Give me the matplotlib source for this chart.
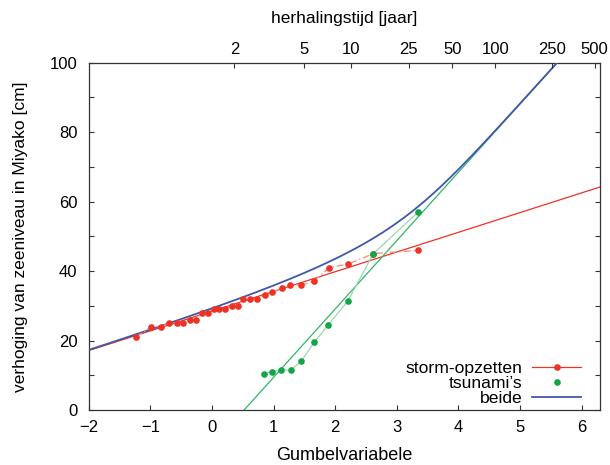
import numpy as np
import matplotlib
matplotlib.use("Agg")
import matplotlib.pyplot as plt
from matplotlib.lines import Line2D

plt.rcParams['font.family'] = ['Liberation Sans', 'DejaVu Sans']
plt.rcParams['font.size'] = 12

# Storm surges: Gumbel plotting position and height [cm]
storm_y = [-1.23, -0.99, -0.83, -0.69, -0.57, -0.47, -0.36, -0.26, -0.16, -0.07,
           0.04, 0.12, 0.22, 0.32, 0.42, 0.51, 0.62, 0.73, 0.86, 0.98,
           1.13, 1.27, 1.45, 1.65, 1.90, 2.21, 2.62, 3.35]
storm_h = [21, 24, 24, 25, 25, 25, 26, 26, 28, 28,
           29, 29, 29, 30, 30, 32, 32, 32, 33, 34,
           35, 36, 36, 37, 41, 42, 45, 46]

# Tsunamis: Gumbel plotting position and height [cm]
tsunami_y = [0.85, 0.98, 1.12, 1.28, 1.45, 1.66, 1.89, 2.21, 2.62, 3.35]
tsunami_h = [10.5, 11, 11.5, 11.5, 14, 19.5, 24.5, 31.5, 45, 57]

# Gumbel fits: h = location + scale * y
storm_loc, storm_scale = 28.45, 5.675
tsunami_loc, tsunami_scale = -10.3, 19.68

# Return periods for the top axis [years]
return_periods = [2, 5, 10, 25, 50, 100, 250, 500]

RED = '#ee3224'
RED_LIGHT = '#f4928a'
GREEN = '#14a54b'
GREEN_LINE = '#2fb866'
GREEN_LIGHT = '#9ad8ad'
BLUE = '#4257a8'

XMIN, XMAX = -2.0, 6.3

fig = plt.figure(figsize=(6.1, 4.65), dpi=100)
ax = fig.add_axes([0.1454, 0.1183, 0.8382, 0.7469])

# fitted straight lines
yy = np.array([XMIN, XMAX])
ax.plot(yy, storm_loc + storm_scale * yy, color=RED, lw=0.9, zorder=2)
ax.plot(yy, tsunami_loc + tsunami_scale * yy, color=GREEN_LINE, lw=0.9, zorder=2)

# combined distribution: annual maximum of both processes
h = np.linspace(0, 120, 600)
y_comb = -np.log(np.exp(-(h - storm_loc) / storm_scale)
                 + np.exp(-(h - tsunami_loc) / tsunami_scale))
ax.plot(y_comb, h, color=BLUE, lw=1.3, zorder=3)

# observations
ax.plot(storm_y, storm_h, color=RED_LIGHT, lw=1.0, ls=(0, (5, 2, 1, 2)), zorder=4)
ax.plot(tsunami_y, tsunami_h, color=GREEN_LIGHT, lw=0.9, zorder=4)
ax.plot(storm_y, storm_h, 'o', color=RED, ms=4.8, mec='none', zorder=5)
ax.plot(tsunami_y, tsunami_h, 'o', color=GREEN, ms=4.8, mec='none', zorder=5)

ax.set_xlim(XMIN, XMAX)
ax.set_ylim(0, 100)
ax.set_xticks(range(-2, 7))
ax.set_yticks(range(0, 101, 20))
ax.set_yticks(range(10, 100, 20), minor=True)
ax.tick_params(axis='both', which='both', direction='in', length=3.6,
               width=0.8, color='#333333')
ax.tick_params(axis='y', which='both', right=True, pad=8)
ax.tick_params(axis='x', top=False, pad=7)
for s in ax.spines.values():
    s.set_color('#333333')
    s.set_linewidth(0.9)

ax.set_xlabel('Gumbelvariabele', labelpad=9, fontsize=13)
ax.set_ylabel('verhoging van zeeniveau in Miyako [cm]', labelpad=16, fontsize=12.5)

# top axis: return period
top = ax.twiny()
top.set_xlim(XMIN, XMAX)
T = np.array(return_periods, dtype=float)
top.set_xticks(-np.log(-np.log(1 - 1 / T)))
top.set_xticklabels([str(t) for t in return_periods])
top.tick_params(axis='x', direction='in', length=3.6, width=0.8,
                color='#333333', pad=4)
for s in top.spines.values():
    s.set_visible(False)
top.set_xlabel('herhalingstijd [jaar]', labelpad=14, fontsize=12.5)

handles = [
    Line2D([], [], color=RED, lw=0.9, marker='o', ms=4.8, mec='none'),
    Line2D([], [], color=GREEN, ls='none', marker='o', ms=4.8, mec='none'),
    Line2D([], [], color=BLUE, lw=1.3),
]
ax.legend(handles, ['storm-opzetten', "tsunami\u2019s", 'beide'],
          loc='lower right', bbox_to_anchor=(0.962, 0.011), frameon=False,
          markerfirst=False, handlelength=2.75, handletextpad=0.55,
          labelspacing=0.0, borderpad=0, borderaxespad=0, fontsize=12.6)

fig.savefig('out.png', dpi=100)
